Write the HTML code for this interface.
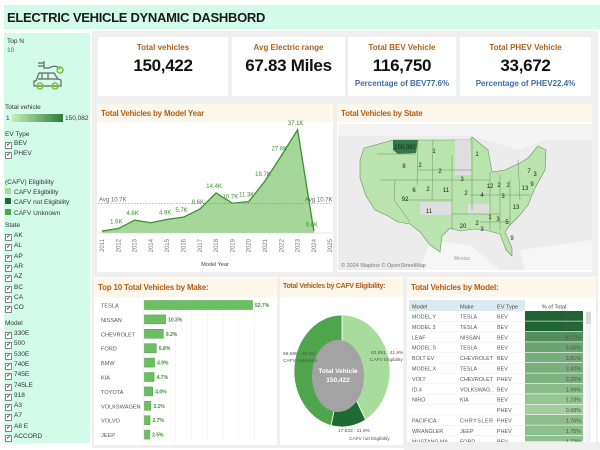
<!DOCTYPE html>
<html><head><meta charset="utf-8">
<style>
*{box-sizing:border-box;margin:0;padding:0}
body{width:600px;height:450px;background:#fff;font-family:"Liberation Sans",sans-serif;position:relative;overflow:hidden}
.abs{position:absolute}
.hdr{position:absolute;background:#fdf6ea;color:#b0601a;font-weight:bold;font-size:8px;padding:5px 4px;letter-spacing:-0.2px;white-space:nowrap;overflow:hidden}
.card{position:absolute;background:#fff;text-align:center}
.card .t{color:#b0601a;font-weight:bold;font-size:8px;margin-top:6px}
.card .v{color:#111;font-size:17px;font-weight:bold;margin-top:4px;letter-spacing:-0.3px}
.card .p{color:#3a6ea5;font-size:8px;font-weight:bold;margin-top:3px}
.sb{font-size:6.5px;color:#333}
.cb{position:absolute;font-size:6.5px;color:#333}
.cb i{display:inline-block;width:7px;height:7px;border:1px solid #888;background:#fff;margin-right:2px;vertical-align:-1px;font-style:normal;font-size:5px;line-height:5px;text-align:center}
</style></head><body>
<div class="abs" style="left:4px;top:5px;width:596px;height:24px;background:#d3fbe9"></div>
<div class="abs" style="left:7px;top:10px;font-size:13px;font-weight:bold;color:#1a1a1a;letter-spacing:-0.3px">ELECTRIC VEHICLE DYNAMIC DASHBORD</div>

<div class="abs" style="left:4px;top:33px;width:86px;height:410px;background:#d3fbe9"></div>
<div class="abs" style="left:92px;top:31px;width:506px;height:417px;background:#efefef"></div>

<div class="abs sb" style="left:7px;top:38px">Top N</div>
<div class="abs sb" style="left:7px;top:47px;color:#666">10</div>
<svg class="abs" style="left:30px;top:57px" width="36" height="36" viewBox="0 0 36 36">
<g fill="none" stroke="#666" stroke-width="1.2"><path d="M6 24 L9 16 L24 16 L28 22 L31 23 L31 29 L4 29 L4 24 Z"/><path d="M12 16 L12 22 M18 16 L18 22 M8 22 L28 22"/><path d="M8 6 L14 6 M8 9 L14 9 M14 4 L14 11 L19 11 Q26 7 30 12"/></g>
<g fill="none" stroke="#7ec932" stroke-width="1.6"><circle cx="10" cy="29" r="3"/><circle cx="25" cy="29" r="3"/><circle cx="30" cy="13" r="3"/></g></svg>

<div class="abs sb" style="left:5px;top:104px">Total vehicle</div>
<div class="abs sb" style="left:6px;top:115px">1</div>
<div class="abs" style="left:12px;top:114px;width:51px;height:8px;background:linear-gradient(90deg,#c7edb9,#2e7d3a)"></div>
<div class="abs sb" style="left:65px;top:115px">150,082</div>

<div class="abs sb" style="left:5px;top:131px">EV Type</div>
<div class="cb" style="left:5px;top:140px"><i>✔</i>BEV</div>
<div class="cb" style="left:5px;top:150px"><i>✔</i>PHEV</div>

<div class="abs sb" style="left:5px;top:179px">(CAFV) Eligibility</div>
<div class="cb" style="left:5px;top:188px"><span style="display:inline-block;width:6px;height:6px;background:#a8dc9c;margin-right:3px"></span>CAFV Eligibility</div>
<div class="cb" style="left:5px;top:198px"><span style="display:inline-block;width:6px;height:6px;background:#1e6b34;margin-right:3px"></span>CAFV not Eligibility</div>
<div class="cb" style="left:5px;top:209px"><span style="display:inline-block;width:6px;height:6px;background:#4ea54c;margin-right:3px"></span>CAFV Unknown</div>

<div class="abs sb" style="left:5px;top:222px">State</div>
<div id="states"></div>
<div class="abs sb" style="left:5px;top:320px">Model</div>
<div id="models"></div>

<!-- KPI cards -->
<div class="card" style="left:98px;top:37px;width:130px;height:59px"><div class="t">Total vehicles</div><div class="v">150,422</div></div>
<div class="card" style="left:232px;top:37px;width:113px;height:59px"><div class="t">Avg Electric  range</div><div class="v">67.83 Miles</div></div>
<div class="card" style="left:348px;top:37px;width:108px;height:59px"><div class="t">Total BEV Vehicle</div><div class="v">116,750</div><div class="p">Percentage of BEV77.6%</div></div>
<div class="card" style="left:460px;top:37px;width:131px;height:59px"><div class="t">Total PHEV Vehicle</div><div class="v">33,672</div><div class="p">Percentage of PHEV22.4%</div></div>

<!-- Line chart panel -->
<div class="abs" style="left:97px;top:104px;width:236px;height:168px;background:#fff"></div>
<div class="hdr" style="left:97px;top:104px;width:236px;height:18px">Total Vehicles by Model Year</div>
<svg id="line" class="abs" style="left:0;top:0" width="600" height="450"></svg>

<!-- Map panel -->
<div class="abs" style="left:337px;top:104px;width:255px;height:168px;background:#fff"></div>
<div class="hdr" style="left:337px;top:104px;width:255px;height:18px">Total Vehicles by State</div>
<svg class="abs" style="left:338px;top:124px" width="254" height="146" viewBox="338 124 254 146">
<rect x="338" y="124" width="254" height="146" fill="#ececec"/>
<path d="M338 124 L592 124 L592 140 L545 140 L520 150 L470 136 L338 136 Z" fill="#f4f4f4"/>
<path d="M430 240 L470 245 L500 270 L420 270 Z M520 250 L592 240 L592 270 L525 270Z" fill="#f6f6f6"/>
<path d="M393 140 L470 140 L472 137 L488 150 L492 172 L505 170 L520 163 L528 158 L538 146 L546 150 L545 170 L535 188 L528 205 L520 215 L510 225 L505 232 L512 248 L512 256 L506 250 L500 234 L485 230 L475 229 L460 231 L450 228 L442 236 L440 252 L430 245 L420 232 L410 224 L398 222 L388 216 L375 210 L366 196 L360 178 L360 160 L364 148 Z" fill="#b9e4ae" stroke="#6f8f68" stroke-width="0.6"/>
<path d="M455 140 L470 140 L472 175 L455 175 Z M420 202 L452 202 L452 215 L420 215 Z M468 204 L490 204 L490 214 L468 214Z" fill="#dedede"/>
<path d="M393 140 L418 140 L416 153 L398 154 L393 150 Z" fill="#2f7a45"/>
<g stroke="#6f8f68" stroke-width="0.5" fill="none">
<path d="M377 154 L416 154 M418 140 L417 185 M433 140 L432 200 M452 155 L452 230 M472 140 L472 210 M490 172 L490 230 M500 175 L500 230 M510 180 L510 225 M418 170 L472 170 M380 180 L490 180 M395 180 L394 200 L410 222 M405 200 L452 200 M452 214 L500 214 M518 160 L520 200 M470 195 L530 195 M480 222 L510 222"/>
</g>
<g id="mapLabels" font-size="6" font-family="Liberation Sans" fill="#222" text-anchor="middle"></g>
<text x="341" y="267" font-size="5.5" fill="#777" font-family="Liberation Sans">© 2024 Mapbox © OpenStreetMap</text>
<text x="454" y="260" font-size="5" fill="#999" font-family="Liberation Sans">Mexico</text>
</svg>

<!-- Bar chart -->
<div class="abs" style="left:94px;top:277px;width:183px;height:168px;background:#fff"></div>
<div class="hdr" style="left:94px;top:278px;width:183px;height:19px">Top 10 Total Vehicles by Make:</div>
<svg id="bars" class="abs" style="left:0;top:0" width="600" height="450"></svg>

<!-- Donut -->
<div class="abs" style="left:280px;top:277px;width:123px;height:168px;background:#fff"></div>
<div class="hdr" style="left:280px;top:278px;width:123px;height:19px;font-size:7px;padding-left:3px;letter-spacing:-0.3px">Total Vehicles by CAFV Eligibility:</div>
<svg id="donut" class="abs" style="left:0;top:0" width="600" height="450"></svg>

<!-- Table -->
<div class="abs" style="left:407px;top:277px;width:189px;height:168px;background:#fff"></div>
<div class="hdr" style="left:407px;top:278px;width:189px;height:19px">Total Vehicles by Model:</div>
<svg id="table" class="abs" style="left:0;top:0" width="600" height="450"></svg>

<script>
const NS="http://www.w3.org/2000/svg";
function mk(parent,tag,attrs,text){const e=document.createElementNS(NS,tag);for(const k in attrs)e.setAttribute(k,attrs[k]);if(text!==undefined)e.textContent=text;parent.appendChild(e);return e;}

// sidebar filters
const stateItems=["AK","AL","AP","AR","AZ","BC","CA","CO"];
const modelItems=["330E","500","530E","740E","745E","745LE","918","A3","A7","A8 E","ACCORD"];
function addChecks(id,items,top){const host=document.getElementById(id);items.forEach((s,i)=>{const d=document.createElement('div');d.className='cb';d.style.left='5px';d.style.top=(top+i*10.3)+'px';d.innerHTML='<i>✔</i>'+s;


host.appendChild(d);});}
addChecks('states',stateItems,232);
addChecks('models',modelItems,330);

// line chart
const years=[2011,2012,2013,2014,2015,2016,2017,2018,2019,2020,2021,2022,2023,2024,2025];
const counts=[0.7,1.6,4.6,3.7,4.9,5.7,8.6,14.4,10.7,11.3,18.7,27.8,37.1,0.6,null];
const countLabels=["","1.6K","4.6K","","4.9K","5.7K","8.6K","14.4K","10.7K","11.3K","18.7K","27.8K","37.1K","0.6K",""];
const avgValue=10.7;
(function(){
 const svg=document.getElementById('line');
 const x0=102,dx=16.3,yb=233,ky=2.78;
 const X=i=>x0+i*dx, Y=v=>yb-v*ky;
 let pts=[];counts.forEach((v,i)=>{if(v!==null)pts.push([X(i),Y(v)]);});
 const last=pts[pts.length-1];
 let area='M'+pts[0][0]+' '+yb+' '+pts.map(p=>'L'+p[0]+' '+p[1]).join(' ')+' L'+last[0]+' '+yb+' Z';
 let a=mk(svg,'path',{d:area,fill:'#a5d69a'});
 let l=mk(svg,'path',{d:'M'+pts.map(p=>p[0]+' '+p[1]).join(' L'),fill:'none',stroke:'#3f8f35','stroke-width':1.3});
 
 const ay=Y(avgValue);
 mk(svg,'line',{x1:98,x2:332,y1:ay,y2:ay,stroke:'#5a8f55','stroke-width':0.6,'stroke-dasharray':'1.5,1.5'});
 mk(svg,'text',{x:99,y:ay-2,'font-size':6,fill:'#666','font-family':'Liberation Sans'},'Avg 10.7K');
 mk(svg,'text',{x:305,y:ay-2,'font-size':6,fill:'#666','font-family':'Liberation Sans'},'Avg 10.7K');
 counts.forEach((v,i)=>{if(v!==null&&countLabels[i]){const t=mk(svg,'text',{x:X(i)-2,y:Y(v)-5,'font-size':6,fill:'#3f8f35','font-family':'Liberation Sans','text-anchor':'middle'},countLabels[i]);
  }});
 mk(svg,'line',{x1:98,x2:332,y1:yb,y2:yb,stroke:'#ccc','stroke-width':0.5});
 years.forEach((y,i)=>{const t=mk(svg,'text',{x:X(i)+2,y:239,'font-size':6,fill:'#777','font-family':'Liberation Sans','text-anchor':'end',transform:`rotate(-90 ${X(i)+2} 239)`},String(y));
  });
 const xt=mk(svg,'text',{x:215,y:266,'font-size':5.5,fill:'#444','font-family':'Liberation Sans','text-anchor':'middle'},'Model Year');
 
})();

// map labels
const mapVals=["150,082","1","8","2","2","3","6","2","11","2","4","12","2","2","7","3","9","13","3","92","11","13","20","2","3","1","3","5","9","1"];
const mapPos=[[405,149],[434,153],[404,168],[420,167],[440,173],[462,181],[414,192],[428,191],[446,192],[466,195],[482,197],[490,188],[499,187],[508,187],[529,173],[535,176],[532,186],[525,190],[503,198],[405,201],[429,213],[516,209],[463,228],[477,225],[482,231],[490,219],[498,221],[507,224],[512,240],[477,156]];
(function(){const g=document.getElementById('mapLabels');mapVals.forEach((v,i)=>{const t=mk(g,'text',{x:mapPos[i][0],y:mapPos[i][1]},v);});})();

// bar chart
const makes=["TESLA","NISSAN","CHEVROLET","FORD","BMW","KIA","TOYOTA","VOLKSWAGEN","VOLVO","JEEP"];
const makePct=[52.7,10.3,9.2,5.8,4.9,4.7,4.0,3.1,2.7,2.5];
(function(){
 const svg=document.getElementById('bars');
 const x0=144,kx=108/52.7,y0=305,dy=14.4;
 for(let i=1;i<=7;i++)mk(svg,'line',{x1:x0+i*15.8,x2:x0+i*15.8,y1:298,y2:442,stroke:'#f0f0f0','stroke-width':0.6});
 mk(svg,'line',{x1:x0,x2:x0,y1:298,y2:442,stroke:'#ddd','stroke-width':0.6});
 makes.forEach((m,i)=>{const y=y0+i*dy;
  mk(svg,'text',{x:101,y:y+2.5,'font-size':5.6,fill:'#555','font-family':'Liberation Sans'},m);
  const b=mk(svg,'rect',{x:x0+0.5,y:y-4.5,width:makePct[i]*kx,height:9,fill:'#6cbf60',stroke:'#4e9e44','stroke-width':0.5});
  
  mk(svg,'text',{x:x0+makePct[i]*kx+3,y:y+2,'font-size':5,fill:'#3f8f35','font-family':'Liberation Sans','font-weight':'bold'},makePct[i].toFixed(1)+'%');
 });
})();

// donut
const cafvCats=["CAFV Eligibility","CAFV not Eligibility","CAFV Unknown"];
const cafvCounts=[62891,17833,69698];
const cafvColors=["#a8dc9c","#1e6b34","#4ea54c"];
(function(){
 const svg=document.getElementById('donut');
 const cx=342,cy=371,rx=48,ry=56;
 const tot=cafvCounts.reduce((a,b)=>a+b,0);
 let ang=0;
 cafvCounts.forEach((c,i)=>{const a0=ang,a1=ang+c/tot*2*Math.PI;ang=a1;
  const p=a=>[cx+rx*Math.sin(a),cy-ry*Math.cos(a)];
  const s=p(a0),e=p(a1);const large=(a1-a0)>Math.PI?1:0;
  const w=mk(svg,'path',{d:`M${cx} ${cy} L${s[0]} ${s[1]} A${rx} ${ry} 0 ${large} 1 ${e[0]} ${e[1]} Z`,fill:cafvColors[i],stroke:'#fff','stroke-width':0.8});
  
 });
 mk(svg,'ellipse',{cx:cx-4,cy:cy+5,rx:26,ry:36,fill:'#a3a3a3'});
 mk(svg,'text',{x:cx-4,y:cy+2,'font-size':6.5,fill:'#fff','font-weight':'bold','text-anchor':'middle','font-family':'Liberation Sans'},'Total Vehicle');
 mk(svg,'text',{x:cx-4,y:cy+11,'font-size':6.5,fill:'#fff','font-weight':'bold','text-anchor':'middle','font-family':'Liberation Sans'},'150,422');
 const fmt=(c)=>c.toLocaleString('en-US')+' : '+(c/tot*100).toFixed(1)+'%';
 const ts={'font-size':4.8,fill:'#555','font-family':'Liberation Sans'};
 mk(svg,'text',Object.assign({x:371,y:354},ts),fmt(cafvCounts[0]));
 mk(svg,'text',Object.assign({x:370,y:361},ts),cafvCats[0]);
 mk(svg,'text',Object.assign({x:283,y:355},ts),fmt(cafvCounts[2]));
 mk(svg,'text',Object.assign({x:283,y:362},ts),cafvCats[2]);
 mk(svg,'text',Object.assign({x:338,y:432},ts),fmt(cafvCounts[1]));
 mk(svg,'text',Object.assign({x:349,y:440},ts),cafvCats[1]);
})();

// table
const tModels=["MODEL Y","MODEL 3","LEAF","MODEL S","BOLT EV","MODEL X","VOLT","ID.4","NIRO","","PACIFICA","WRANGLER","MUSTANG MA"];
const tMakes=["TESLA","TESLA","NISSAN","TESLA","CHEVROLET","TESLA","CHEVROLET","VOLKSWAG..","KIA","","CHRYSLER","JEEP","FORD"];
const tTypes=["BEV","BEV","BEV","BEV","BEV","BEV","PHEV","BEV","BEV","PHEV","PHEV","PHEV","BEV"];
const tPct=[18.95,18.42,8.77,5.06,3.81,3.40,3.25,1.99,1.23,0.68,1.76,1.75,1.72];
(function(){
 const svg=document.getElementById('table');
 const y0=311,dy=10.4,cx=525,cw=58;
 mk(svg,'rect',{x:409,y:300,width:116,height:11,fill:'#dde9f0'});
 const hs={'font-size':5.6,fill:'#444','font-family':'Liberation Sans'};
 mk(svg,'text',Object.assign({x:412,y:308.5},hs),'Model');
 mk(svg,'text',Object.assign({x:460,y:308.5},hs),'Make');
 mk(svg,'text',Object.assign({x:497,y:308.5},hs),'EV Type');
 mk(svg,'text',Object.assign({x:554,y:308.5,'text-anchor':'middle'},hs),'% of Total');
 const col=p=>{const t=Math.min(1,p/19);const a=[190,230,180],b=[30,100,50];return `rgb(${Math.round(a[0]+(b[0]-a[0])*Math.sqrt(t))},${Math.round(a[1]+(b[1]-a[1])*Math.sqrt(t))},${Math.round(a[2]+(b[2]-a[2])*Math.sqrt(t))})`;};
 const g=mk(svg,'g',{});
 tPct.forEach((p,i)=>{const y=y0+i*dy;if(y>440)return;
  const h=Math.min(dy,442-y);
  const c=mk(g,'rect',{x:cx,y:y,width:cw,height:h-0.6,fill:col(p)});
  
  mk(g,'line',{x1:409,x2:525,y1:y+dy,y2:y+dy,stroke:'#eee','stroke-width':0.5});
  const ty=y+7.5;if(ty>446)return;
  const s={'font-size':5.4,fill:'#555','font-family':'Liberation Sans'};
  mk(g,'text',Object.assign({x:412,y:ty},s),tModels[i]);
  mk(g,'text',Object.assign({x:460,y:ty,textLength:tMakes[i].length>6?33:null},s),tMakes[i]).removeAttribute(tMakes[i].length>6?'x-none':'textLength');
  mk(g,'text',Object.assign({x:497,y:ty},s),tTypes[i]);
  mk(g,'text',Object.assign({x:581,y:ty,'text-anchor':'end',fill:p>10?'#fff':'#333'},s),p.toFixed(2)+'%');
 });
 mk(svg,'rect',{x:586,y:311,width:5,height:131,fill:'#f2f2f2'});
 mk(svg,'rect',{x:586,y:312,width:5,height:12,fill:'#d8d8d8'});
 mk(svg,'rect',{x:404,y:442,width:196,height:8,fill:'#efefef'});
})();
</script>
</body></html>
